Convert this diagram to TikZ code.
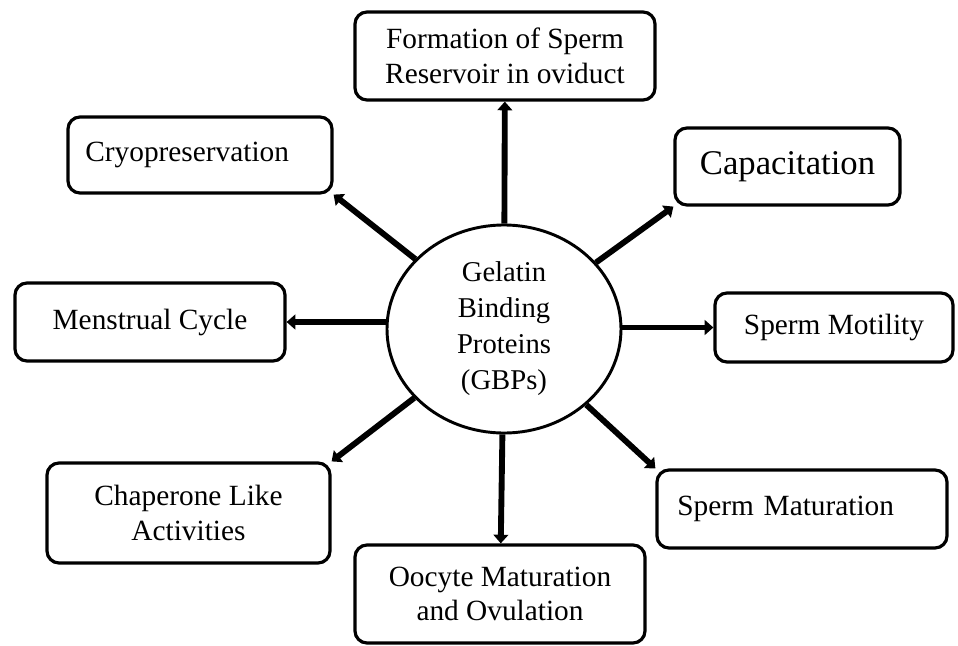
\documentclass[tikz,border=0pt]{standalone}
\usepackage{fontspec}
\setmainfont{Liberation Serif}
\usetikzlibrary{arrows.meta,shapes.geometric}
\tikzset{
  role/.style={draw, line width=2.4pt, rounded corners=9pt, align=center,
    inner sep=0pt, font=\fontsize{22}{26}\selectfont},
  leftrole/.style={role, align=left, text width=#1},
  gbp/.style={draw, ellipse, line width=2.2pt, align=center, inner sep=0pt,
    minimum width=175.5pt, minimum height=156pt, font=\fontsize{21.5}{27}\selectfont},
  link/.style={line width=4.4pt, -{Triangle[length=6.5pt,width=11pt]}}
}

\begin{document}
\begin{tikzpicture}[x=0.75pt, y=-0.75pt]
  \useasboundingbox (0,0) rectangle (958,646);

  \node [gbp] (center) at (504,329) {Gelatin\\Binding\\Proteins\\(GBPs)};

  \node [role, minimum width=225pt, minimum height=66pt] (reservoir) at (505,56)
    {Formation of Sperm\\Reservoir in oviduct};
  \node [leftrole=172pt, minimum width=198pt, minimum height=57pt] (cryo) at (200,155)
    {Cryopreservation};
  \node [role, minimum width=168.75pt, minimum height=57.75pt,
    font=\fontsize{26}{30}\selectfont] (capacitation) at (787.5,166.5) {Capacitation};
  \node [role, minimum width=202.5pt, minimum height=58.5pt] (menstrual) at (150,322)
    {Menstrual Cycle};
  \node [role, minimum width=178.5pt, minimum height=51.75pt] (motility) at (834,327.5)
    {Sperm Motility};
  \node [role, minimum width=212.25pt, minimum height=75pt] (chaperone) at (188.5,513)
    {Chaperone Like\\Activities};
  \node [leftrole=187pt, minimum width=217.5pt, minimum height=58.5pt] (maturation) at (802,509)
    {Sperm Maturation};
  \node [role, minimum width=217.5pt, minimum height=73.5pt] (oocyte) at (500,594)
    {Oocyte Maturation\\and Ovulation};

  % arrows out of the centre
  \draw [link] (center) -- (reservoir);
  \draw [link] (center) -- (cryo.south east);
  \draw [link] (center) -- (capacitation.south west);
  \draw [link] (menstrual.east -| center.west) -- (menstrual);
  \draw [link] (motility.west -| center.east) -- (motility);
  \draw [link] (center) -- (chaperone.north east);
  \draw [link] (center) -- (maturation.north west);
  \draw [link] (center) -- (oocyte);
\end{tikzpicture}
\end{document}
